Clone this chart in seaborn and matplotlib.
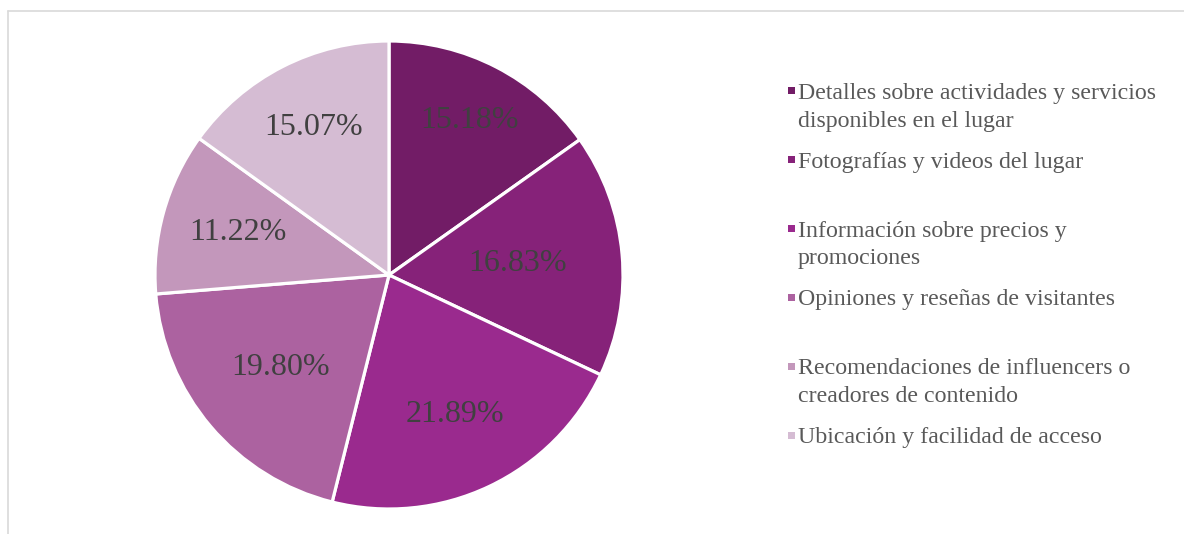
import matplotlib
matplotlib.use("Agg")
import matplotlib.pyplot as plt
import seaborn as sns
import numpy as np
from matplotlib.lines import Line2D
from matplotlib.patches import Rectangle

# ---- data ----
categories = [
    "Detalles sobre actividades y servicios\ndisponibles en el lugar",
    "Fotografías y videos del lugar",
    "Información sobre precios y\npromociones",
    "Opiniones y reseñas de visitantes",
    "Recomendaciones de influencers o\ncreadores de contenido",
    "Ubicación y facilidad de acceso",
]
values = [15.18, 16.83, 21.89, 19.80, 11.22, 15.07]
pct_labels = ["15.18%", "16.83%", "21.89%", "19.80%", "11.22%", "15.07%"]

# ---- style ----
colors = ["#721C66", "#862279", "#9A2A8E", "#AC62A0", "#C397BB", "#D5BCD3"]
label_dist = [0.745, 0.55, 0.66, 0.61, 0.67, 0.71]

sns.set_theme(style="white")
plt.rcParams["font.family"] = ["Liberation Serif", "DejaVu Serif"]
palette = sns.color_palette(colors)

W, H = 1184, 534
fig = plt.figure(figsize=(W / 100, H / 100), dpi=100)
fig.patch.set_facecolor("white")

# frame lines (top and left)
fig.add_artist(Line2D([8 / W, 1.0], [1 - 11 / H, 1 - 11 / H], color="#D9D9D9", lw=1.2))
fig.add_artist(Line2D([8 / W, 8 / W], [0.0, 1 - 11 / H], color="#D9D9D9", lw=1.2))

# pie axes: center (389,275), radius 234 px
cx, cy, r = 389, 275, 234
ax = fig.add_axes([(cx - r) / W, 1 - (cy + r) / H, 2 * r / W, 2 * r / H])
wedges, _ = ax.pie(
    values,
    colors=palette,
    startangle=90,
    counterclock=False,
    radius=1.0,
    wedgeprops=dict(edgecolor="white", linewidth=2.3),
)
for w, lab, d in zip(wedges, pct_labels, label_dist):
    ang = np.deg2rad((w.theta1 + w.theta2) / 2)
    ax.text(d * np.cos(ang), d * np.sin(ang), lab, ha="center", va="center",
            fontsize=23, color="#404040")
ax.set_xlim(-1, 1)
ax.set_ylim(-1, 1)
ax.set_aspect("equal")
ax.axis("off")

# legend (manual, Excel-like two-line slots)
leg_x_marker = 791
leg_x_text = 798
leg_y0 = 91
leg_step = 68.8
msize = 7
for i, (lab, col) in enumerate(zip(categories, palette)):
    yc = leg_y0 + i * leg_step
    fig.add_artist(Rectangle(((leg_x_marker - msize / 2) / W, 1 - (yc + msize / 2) / H),
                             msize / W, msize / H, facecolor=col, edgecolor="none",
                             transform=fig.transFigure))
    fig.text(leg_x_text / W, 1 - (yc - 8) / H, lab, ha="left", va="top",
             fontsize=17.2, color="#595959", linespacing=1.42)

fig.savefig("out.png", dpi=100, facecolor="white")
